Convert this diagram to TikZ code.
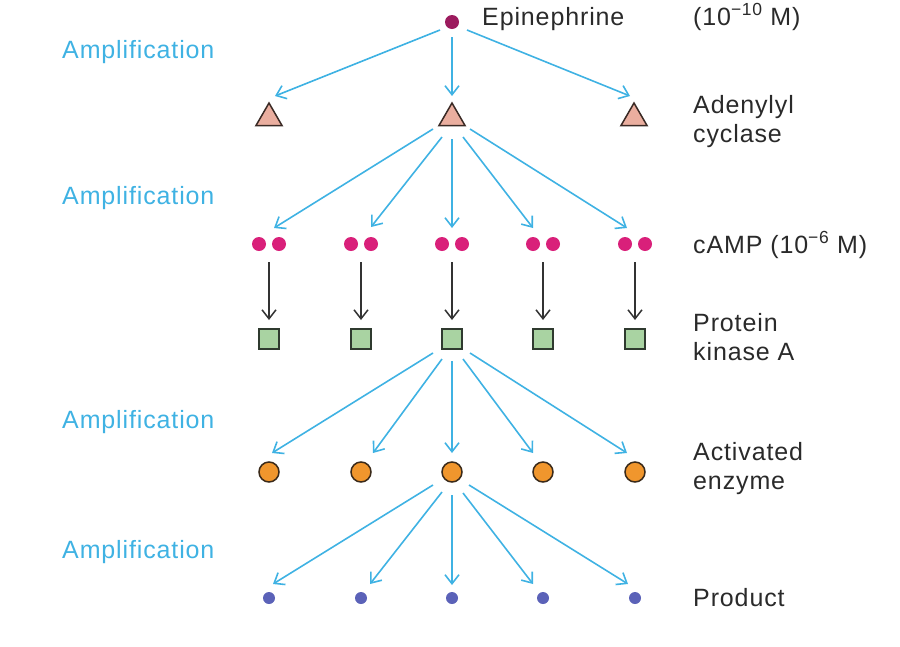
\documentclass[tikz,border=0pt]{standalone}
\usepackage{fontspec}
\setmainfont{Liberation Sans}[LetterSpace=3.5]
\usetikzlibrary{arrows.meta,shapes.geometric}
\definecolor{ablue}{HTML}{3FB2E3}
\definecolor{txtgray}{HTML}{2A2A2A}
\definecolor{kgray}{HTML}{333333}
\definecolor{epic}{HTML}{9C1B5E}
\definecolor{trifill}{HTML}{EAAE9F}
\definecolor{tridraw}{HTML}{3A2A25}
\definecolor{campc}{HTML}{D9207A}
\definecolor{sqfill}{HTML}{A9D3A2}
\definecolor{sqdraw}{HTML}{2F3A2F}
\definecolor{enzfill}{HTML}{F0962D}
\definecolor{enzdraw}{HTML}{3A2A1A}
\definecolor{prodc}{HTML}{5B62B8}
\tikzset{
  lbl/.style={anchor=base west, inner sep=0pt, align=left, font=\fontsize{25}{29}\selectfont, text=txtgray},
  amp/.style={lbl, text=ablue},
  barrow/.style={draw=ablue, line width=1.6pt, -{Straight Barb[length=9pt,width=14pt]}},
  karrow/.style={draw=kgray, line width=1.5pt, -{Straight Barb[length=9pt,width=14pt]}},
  epi/.style={circle, fill=epic, minimum size=14pt, inner sep=0pt},
  tri/.style={regular polygon, regular polygon sides=3, minimum size=30pt, inner sep=0pt, fill=trifill, draw=tridraw, line width=1.5pt},
  campdot/.style={circle, fill=campc, minimum size=14pt, inner sep=0pt},
  pair/.style={minimum width=34pt, minimum height=14pt, inner sep=0pt},
  pka/.style={rectangle, minimum size=20pt, inner sep=0pt, fill=sqfill, draw=sqdraw, line width=1.5pt},
  enz/.style={circle, minimum size=20pt, inner sep=0pt, fill=enzfill, draw=enzdraw, line width=1.5pt},
  prod/.style={circle, minimum size=12pt, inner sep=0pt, fill=prodc}
}
\begin{document}
\begin{tikzpicture}[x=1pt,y=-1pt]
\useasboundingbox (0,0) rectangle (900,646);
% labels
\node[amp] (amp1) at (62,58) {Amplification};
\node[amp] (amp2) at (62,204) {Amplification};
\node[amp] (amp3) at (62,428) {Amplification};
\node[amp] (amp4) at (62,558) {Amplification};
\node[lbl] (lepi) at (482,25) {Epinephrine};
\node[lbl] (lconc1) at (693,25) {(10\textsuperscript{−10} M)};
\node[lbl] (lac) at (693,142) {Adenylyl\\cyclase};
\node[lbl] (lcamp) at (693,253) {cAMP (10\textsuperscript{−6} M)};
\node[lbl] (lpka) at (693,360) {Protein\\kinase A};
\node[lbl] (lenz) at (693,489) {Activated\\enzyme};
\node[lbl] (lprod) at (693,606) {Product};
% molecules
\node[epi] (epi) at (452,22) {};
\node[tri] (t1) at (269,118) {};
\node[tri] (t2) at (452,118) {};
\node[tri] (t3) at (634,118) {};
\foreach \i/\x in {1/269,2/361,3/452,4/543,5/635}{
  \node[pair] (cp\i) at (\x,244) {};
  \node[campdot] (c\i a) at (\x-10,244) {};
  \node[campdot] (c\i b) at (\x+10,244) {};
  \node[pka] (s\i) at (\x,339) {};
  \node[enz] (e\i) at (\x,472) {};
  \node[prod] (p\i) at (\x,598) {};
  \draw[karrow] ([shift={(0,18)}]cp\i.center) -- ([shift={(0,-19)}]s\i.center);
}
% epinephrine -> adenylyl cyclase
\draw[barrow] ([shift={(-12,8)}]epi.center) -- ([shift={(6,-22)}]t1.center);
\draw[barrow] ([shift={(0,15)}]epi.center) -- ([shift={(0,-22)}]t2.center);
\draw[barrow] ([shift={(15,8)}]epi.center) -- ([shift={(-4,-22)}]t3.center);
% adenylyl cyclase -> cAMP
\foreach \i/\sx/\sy/\ex/\ey in {1/-19/11/5/-16, 2/-10/19/10/-17, 3/0/21/0/-16, 4/11/19/-10/-16, 5/18/11/-8/-16}
  \draw[barrow] ([shift={(\sx,\sy)}]t2.center) -- ([shift={(\ex,\ey)}]cp\i.center);
% PKA -> enzymes
\foreach \i/\sx/\sy/\ex/\ey in {1/-19/14/3/-19, 2/-10/20/12/-19, 3/0/22/0/-19, 4/11/20/-10/-19, 5/18/14/-8/-19}
  \draw[barrow] ([shift={(\sx,\sy)}]s3.center) -- ([shift={(\ex,\ey)}]e\i.center);
% enzyme -> product
\foreach \i/\sx/\sy/\ex/\ey in {1/-19/13/4/-14, 2/-10/20/9/-14, 3/0/23/0/-13, 4/11/21/-10/-14, 5/17/13/-7/-14}
  \draw[barrow] ([shift={(\sx,\sy)}]e3.center) -- ([shift={(\ex,\ey)}]p\i.center);
\end{tikzpicture}
\end{document}
